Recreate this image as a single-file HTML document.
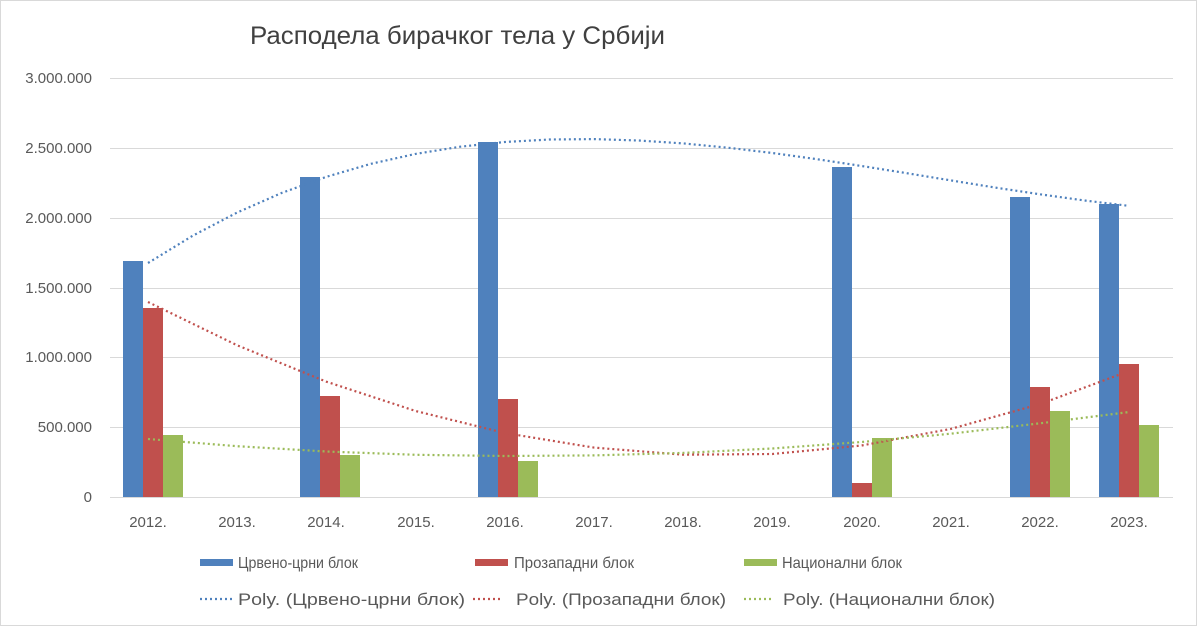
<!DOCTYPE html>
<html><head><meta charset="utf-8"><style>
body{margin:0;background:#fff}
svg{display:block;font-family:"Liberation Sans",sans-serif}
</style></head><body>
<svg width="1197" height="626" viewBox="0 0 1197 626">
<rect x="0.5" y="0.5" width="1196" height="625" fill="#fff" stroke="#d9d9d9"/>
<text x="250" y="44" font-size="25" fill="#404040" textLength="415" lengthAdjust="spacingAndGlyphs">Расподела бирачког тела у Србији</text>
<g stroke="#d9d9d9" stroke-width="1">
<line x1="110" x2="1173" y1="78.5" y2="78.5"/><line x1="110" x2="1173" y1="148.5" y2="148.5"/>
<line x1="110" x2="1173" y1="218.5" y2="218.5"/><line x1="110" x2="1173" y1="288.5" y2="288.5"/>
<line x1="110" x2="1173" y1="357.5" y2="357.5"/><line x1="110" x2="1173" y1="427.5" y2="427.5"/>
<line x1="110" x2="1173" y1="497.5" y2="497.5"/>
</g>
<g font-size="15" fill="#595959" text-anchor="end">
<text x="92" y="83">3.000.000</text><text x="92" y="153">2.500.000</text><text x="92" y="223">2.000.000</text>
<text x="92" y="293">1.500.000</text><text x="92" y="362">1.000.000</text><text x="92" y="432">500.000</text><text x="92" y="502">0</text>
</g>
<g font-size="15" fill="#595959" text-anchor="middle">
<text x="148" y="527">2012.</text><text x="237" y="527">2013.</text><text x="326" y="527">2014.</text><text x="416" y="527">2015.</text>
<text x="505" y="527">2016.</text><text x="594" y="527">2017.</text><text x="683" y="527">2018.</text><text x="772" y="527">2019.</text>
<text x="862" y="527">2020.</text><text x="951" y="527">2021.</text><text x="1040" y="527">2022.</text><text x="1129" y="527">2023.</text>
</g>
<g fill="#4f81bd">
<rect x="123" y="261" width="20" height="236"/><rect x="300" y="177" width="20" height="320"/>
<rect x="478" y="142" width="20" height="355"/><rect x="832" y="167" width="20" height="330"/>
<rect x="1010" y="197" width="20" height="300"/><rect x="1099" y="204" width="20" height="293"/>
</g>
<g fill="#c0504d">
<rect x="143" y="308" width="20" height="189"/><rect x="320" y="396" width="20" height="101"/>
<rect x="498" y="399" width="20" height="98"/><rect x="852" y="483" width="20" height="14"/>
<rect x="1030" y="387" width="20" height="110"/><rect x="1119" y="364" width="20" height="133"/>
</g>
<g fill="#9bbb59">
<rect x="163" y="435" width="20" height="62"/><rect x="340" y="455" width="20" height="42"/>
<rect x="518" y="461" width="20" height="36"/><rect x="872" y="438" width="20" height="59"/>
<rect x="1050" y="411" width="20" height="86"/><rect x="1139" y="425" width="20" height="72"/>
</g>
<g fill="none" stroke-width="2.2" stroke-dasharray="2 3" stroke-linejoin="round">
<polyline stroke="#4f81bd" points="148,263 192.6,235.8 237.2,212.5 281.8,192.9 326.4,176.8 371,163.8 415.6,153.9 460.2,146.7 504.8,142 549.4,139.5 594,139.1 638.6,140.5 683.2,143.4 727.8,147.7 772.4,153 817,159.2 861.6,166 906.2,173.1 950.8,180.4 995.4,187.6 1040,194.3 1084.6,200.5 1129.2,205.9"/>
<polyline stroke="#c0504d" points="148,302 237.2,345.3 326.4,381.7 415.6,411 504.8,433 594,447.6 683.2,454.7 772.4,454 861.6,445.5 950.8,428.9 1040,404.1 1129.2,371"/>
<polyline stroke="#9bbb59" points="148,439 237.2,446.2 326.4,451.5 415.6,454.8 504.8,456 594,455.4 683.2,452.9 772.4,448.5 861.6,442 950.8,433.7 1040,423.3 1129.2,412"/>
</g>
<rect x="200" y="559" width="33" height="7" fill="#4f81bd"/>
<rect x="475" y="559" width="33" height="7" fill="#c0504d"/>
<rect x="744" y="559" width="33" height="7" fill="#9bbb59"/>
<g stroke-width="2.2" stroke-dasharray="2 3">
<line x1="200" x2="232" y1="599" y2="599" stroke="#4f81bd"/>
<line x1="473" x2="501" y1="599" y2="599" stroke="#c0504d"/>
<line x1="744" x2="771" y1="599" y2="599" stroke="#9bbb59"/>
</g>
<g font-size="16" fill="#595959">
<text x="238" y="568" textLength="120" lengthAdjust="spacingAndGlyphs">Црвено-црни блок</text>
<text x="514" y="568" textLength="120" lengthAdjust="spacingAndGlyphs">Прозападни блок</text>
<text x="782" y="568" textLength="120" lengthAdjust="spacingAndGlyphs">Национални блок</text>
</g>
<g font-size="17" fill="#595959">
<text x="238" y="605" textLength="227" lengthAdjust="spacingAndGlyphs">Poly. (Црвено-црни блок)</text>
<text x="516" y="605" textLength="210" lengthAdjust="spacingAndGlyphs">Poly. (Прозападни блок)</text>
<text x="783" y="605" textLength="212" lengthAdjust="spacingAndGlyphs">Poly. (Национални блок)</text>
</g>
</svg>
</body></html>
